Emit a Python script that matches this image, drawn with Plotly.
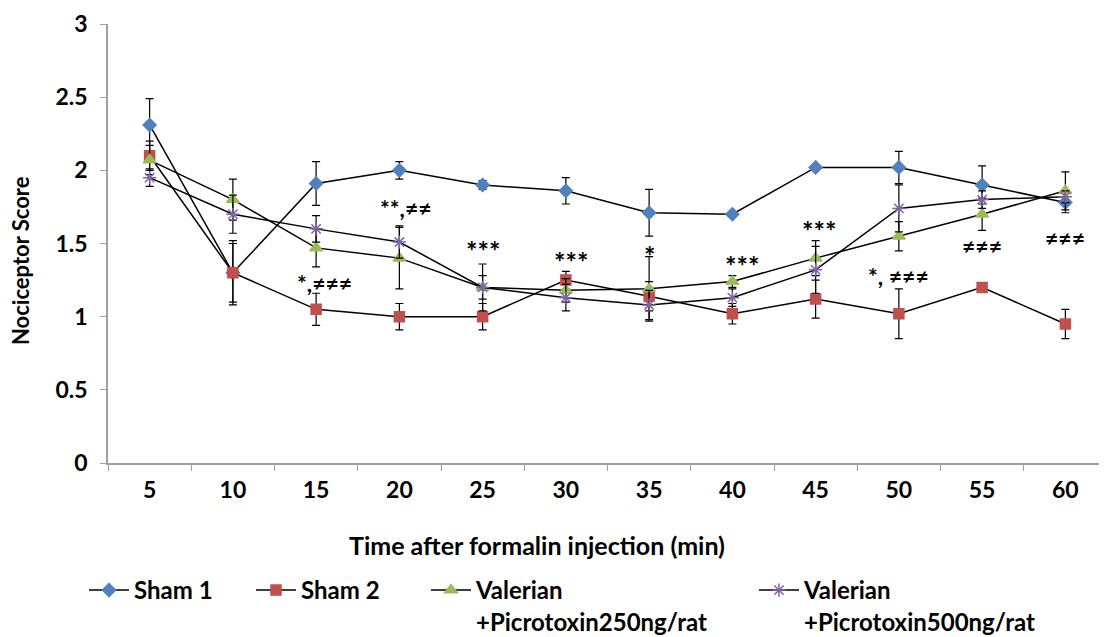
import plotly.graph_objects as go

time = [5, 10, 15, 20, 25, 30, 35, 40, 45, 50, 55, 60]
sham1 = [2.31, 1.30, 1.91, 2.00, 1.90, 1.86, 1.71, 1.70, 2.02, 2.02, 1.90, 1.78]
sham1_err = [0.18, 0.22, 0.15, 0.06, 0.03, 0.09, 0.16, 0.01, 0.01, 0.11, 0.13, 0.07]
sham2 = [2.10, 1.30, 1.05, 1.00, 1.00, 1.25, 1.14, 1.02, 1.12, 1.02, 1.20, 0.95]
sham2_err = [0.10, 0.20, 0.11, 0.09, 0.09, 0.06, 0.10, 0.07, 0.13, 0.17, 0.0, 0.10]
val250 = [2.07, 1.80, 1.47, 1.40, 1.20, 1.18, 1.19, 1.24, 1.40, 1.55, 1.70, 1.86]
val250_err = [0.10, 0.14, 0.13, 0.21, 0.16, 0.08, 0.22, 0.04, 0.12, 0.10, 0.11, 0.13]
val500 = [1.95, 1.70, 1.60, 1.51, 1.20, 1.13, 1.08, 1.13, 1.32, 1.74, 1.80, 1.82]
val500_err = [0.06, 0.13, 0.09, 0.11, 0.08, 0.09, 0.10, 0.06, 0.16, 0.16, 0.06, 0.04]

names = ["Sham 1", "Sham 2", "Valerian<br>+Picrotoxin250ng/rat", "Valerian<br>+Picrotoxin500ng/rat"]

# significance labels
sig_x = [15.5, 20.4, 25, 30.3, 35, 40.6, 45.2, 50, 55, 60]
sig_y = [1.23, 1.74, 1.45, 1.38, 1.42, 1.35, 1.59, 1.28, 1.48, 1.54]
sig_text = ["*,≠≠≠", "**,≠≠", "***", "***", "*", "***", "***", "*, ≠≠≠", "≠≠≠", "≠≠≠"]
sig_size = [23, 23, 27, 27, 27, 27, 27, 23, 23, 23]

FONT = "Lato, Open Sans, sans-serif"
# page has an 8px body margin, so the figure is sized/positioned 8px smaller
W, H = 1099, 629
L, R, T, B = 100, 0, 16, 174
PW, PH = W - L - R, H - T - B


def px_x(px):
    return (px - L) / PW


def px_y(py):
    return (H - B - py) / PH


series = [
    (sham1, sham1_err, "#4F81BD", "diamond", 10, "legend"),
    (sham2, sham2_err, "#C0504D", "square", 10, "legend2"),
    (val250, val250_err, "#9BBB59", "triangle-up", 11, "legend3"),
    (val500, val500_err, "#8064A2", "asterisk-open", 11, "legend4"),
]

fig = go.Figure()
for (vals, errs, color, sym, size, leg), name in zip(series, names):
    fig.add_trace(go.Scatter(
        x=time, y=vals, name=name, mode="lines+markers", legend=leg,
        line=dict(color="black", width=1.5),
        marker=dict(color=color, symbol=sym, size=size,
                    line=dict(color=color, width=1.5)),
        error_y=dict(type="data", array=errs, visible=True,
                     color="black", thickness=1.2, width=4),
    ))

for x, y, t, s in zip(sig_x, sig_y, sig_text, sig_size):
    fig.add_annotation(x=x, y=y, text=t, showarrow=False, xref="x", yref="y",
                       font=dict(family=FONT, size=s, color="black", weight="bold"))

# axis titles
fig.add_annotation(x=px_x(529), y=px_y(537), xref="paper", yref="paper",
                   text="Time after formalin injection (min)", showarrow=False,
                   xanchor="center", yanchor="middle",
                   font=dict(family=FONT, size=25, color="black", weight="bold"))
fig.add_annotation(x=px_x(12), y=px_y(253), xref="paper", yref="paper",
                   text="Nociceptor Score", showarrow=False, textangle=-90,
                   xanchor="center", yanchor="middle",
                   font=dict(family=FONT, size=22, color="black", weight="bold"))

legfont = dict(family=FONT, size=24, color="black", weight="bold")
leg_x = [76, 243, 418, 746]
leg_common = dict(orientation="h", xref="container", yref="container",
                  xanchor="left", y=1 - 560 / H, yanchor="top",
                  font=legfont, itemwidth=40, valign="top",
                  bgcolor="rgba(0,0,0,0)")
fig.update_layout(
    width=W, height=H,
    paper_bgcolor="white", plot_bgcolor="white",
    margin=dict(l=L, r=R, t=T, b=B),
    font=dict(family=FONT, color="black"),
    showlegend=True,
    legend=dict(x=leg_x[0] / W, **leg_common),
    legend2=dict(x=leg_x[1] / W, **leg_common),
    legend3=dict(x=leg_x[2] / W, **leg_common),
    legend4=dict(x=leg_x[3] / W, **leg_common),
)
fig.update_xaxes(
    range=[2.5, 62.5], tickvals=time, ticktext=[str(t) for t in time],
    ticks="", showline=True, linecolor="#a0a0a0", linewidth=1.5,
    showgrid=False, zeroline=False, automargin=False,
    tickfont=dict(family=FONT, size=23, weight="bold"),
    ticklabelstandoff=6,
    minor=dict(tickvals=[2.5 + 5 * i for i in range(13)], ticks="outside",
               ticklen=6, tickcolor="#a0a0a0", showgrid=False),
)
fig.update_yaxes(
    range=[0, 3], tickvals=[0, 0.5, 1, 1.5, 2, 2.5, 3],
    ticktext=["0", "0.5", "1", "1.5", "2", "2.5", "3"],
    ticks="outside", ticklen=6, tickcolor="#a0a0a0",
    showline=True, linecolor="#a0a0a0", linewidth=1.5,
    showgrid=False, zeroline=False, automargin=False,
    tickfont=dict(family=FONT, size=23, weight="bold"),
    ticklabelstandoff=8,
)

fig.write_html("out.html")
